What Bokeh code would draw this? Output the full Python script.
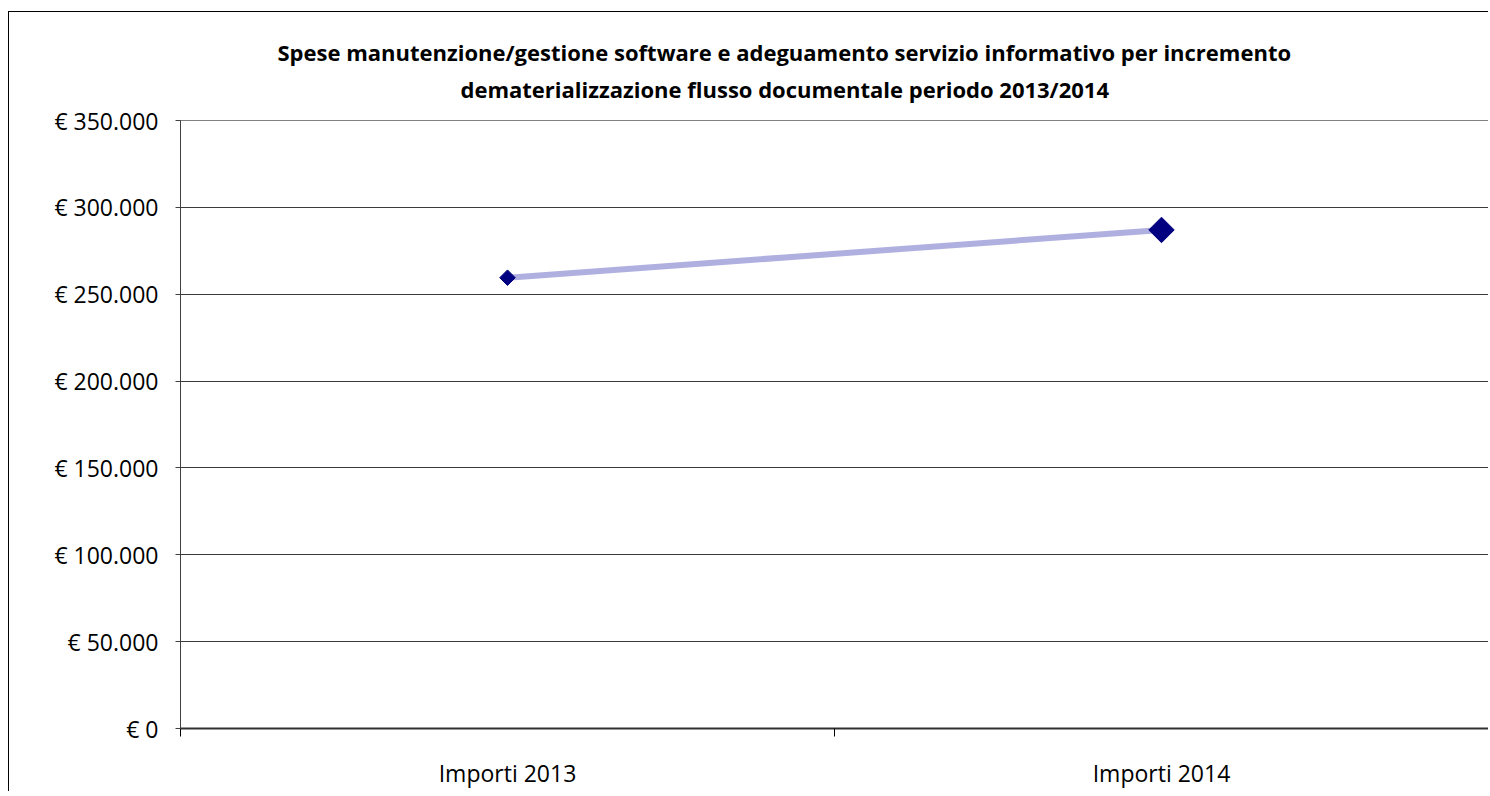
import numpy as np
from bokeh.plotting import figure
from bokeh.models import FixedTicker, Range1d, Title, ColumnDataSource
from bokeh.embed import file_html
from bokeh.resources import INLINE

# ---- data ----
categories = ["Importi 2013", "Importi 2014"]
values = [259500, 287000]
y_ticks = [0, 50000, 100000, 150000, 200000, 250000, 300000, 350000]
y_tick_labels = ["€ 0", "€ 50.000", "€ 100.000", "€ 150.000", "€ 200.000",
                 "€ 250.000", "€ 300.000", "€ 350.000"]
title_lines = [
    "Spese manutenzione/gestione software e adeguamento servizio informativo per incremento",
    "dematerializzazione flusso documentale periodo 2013/2014",
]

# ---- style ----
FONT = "Open Sans"
marker_sizes = [11, 18]

x_pos = [i + 0.5 for i in range(len(categories))]
src = ColumnDataSource(dict(x=x_pos, y=values, size=marker_sizes))

p = figure(width=1480, height=780, output_backend="svg", toolbar_location=None,
           title=None,
           x_range=Range1d(0, len(categories)), y_range=Range1d(y_ticks[0], y_ticks[-1]),
           min_border_left=171, min_border_right=1, min_border_top=108,
           min_border_bottom=64)
p.styles = {"border-left": "1px solid black", "border-top": "1px solid black",
            "margin-top": "11px", "margin-left": "8px"}

p.background_fill_color = "white"
p.border_fill_color = "white"
p.outline_line_color = "#808080"
p.outline_line_width = 1

# y axis
p.yaxis.ticker = FixedTicker(ticks=y_ticks)
p.yaxis.major_label_overrides = {v: s for v, s in zip(y_ticks, y_tick_labels)}
p.yaxis.axis_line_color = "#404040"
p.yaxis.major_tick_line_color = "#404040"
p.yaxis.major_tick_out = 5
p.yaxis.major_tick_in = 0
p.yaxis.minor_tick_out = 0
p.yaxis.minor_tick_in = 0
p.yaxis.major_label_standoff = 17
p.yaxis.major_label_text_font = FONT
p.yaxis.major_label_text_font_size = "23px"
p.yaxis.major_label_text_color = "black"

# x axis
p.xaxis.ticker = FixedTicker(ticks=x_pos, minor_ticks=list(range(len(categories) + 1)))
p.xaxis.major_label_overrides = {v: c for v, c in zip(x_pos, categories)}
p.xaxis.axis_line_color = "#303030"
p.xaxis.axis_line_width = 2
p.xaxis.major_tick_out = 0
p.xaxis.major_tick_in = 0
p.xaxis.minor_tick_out = 8
p.xaxis.minor_tick_in = 0
p.xaxis.minor_tick_line_color = "black"
p.xaxis.major_label_standoff = 20
p.xaxis.major_label_text_font = FONT
p.xaxis.major_label_text_font_size = "23px"
p.xaxis.major_label_text_color = "black"

# grid
p.xgrid.visible = False
p.ygrid.ticker = FixedTicker(ticks=y_ticks[1:-1])
p.ygrid.grid_line_color = "#3a3a3a"
p.ygrid.grid_line_width = 1

# titles
t2 = Title(text=title_lines[1], align="left", offset=280, text_font=FONT,
           text_font_size="22px", text_font_style="bold", text_color="black",
           vertical_align="top", standoff=29)
t1 = Title(text=title_lines[0], align="left", offset=97, text_font=FONT,
           text_font_size="22px", text_font_style="bold", text_color="black",
           vertical_align="bottom", standoff=-15)
p.add_layout(t2, "above")
p.add_layout(t1, "above")

# series
p.line("x", "y", source=src, line_color="#b0b0e0", line_width=6)
p.scatter("x", "y", source=src, size="size", marker="square", angle=np.pi / 4,
          fill_color="#000080", line_color="#000080")

open("out.html", "w").write(file_html(p, INLINE))
